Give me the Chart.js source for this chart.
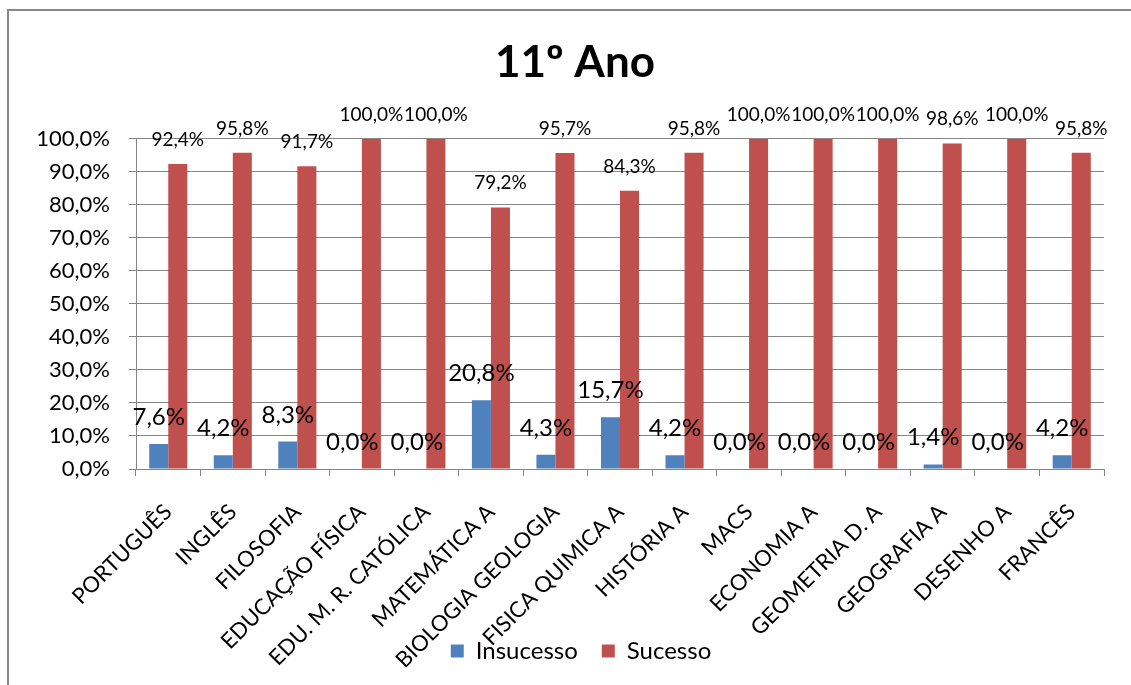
<!DOCTYPE html>
<html>
<head>
<meta charset="utf-8">
<script src="https://cdn.jsdelivr.net/npm/chart.js@4/dist/chart.umd.min.js"></script>
<style>
  html, body { margin: 0; padding: 0; background: #fff; overflow: hidden; }
  #wrap { position: relative; width: 1131px; height: 685px; overflow: hidden; }
  #frame { position: absolute; left: 7px; top: 9px; width: 1200px; height: 760px;
           border-top: 2px solid #888; border-left: 2px solid #888; pointer-events: none; }
  canvas { display: block; }
</style>
</head>
<body>
<div id="wrap">
  <canvas id="myChart" width="1131" height="685"></canvas>
  <div id="frame"></div>
</div>
<script>
//----------------------
// Data
//----------------------

const categories = ['PORTUGUÊS', 'INGLÊS', 'FILOSOFIA', 'EDUCAÇÃO FÍSICA', 'EDU. M. R. CATÓLICA',
    'MATEMÁTICA A', 'BIOLOGIA GEOLOGIA', 'FISICA QUIMICA A', 'HISTÓRIA A', 'MACS',
    'ECONOMIA A', 'GEOMETRIA D. A', 'GEOGRAFIA A', 'DESENHO A', 'FRANCÊS'];
const insucesso = [7.6, 4.2, 8.3, 0.0, 0.0, 20.8, 4.3, 15.7, 4.2, 0.0, 0.0, 0.0, 1.4, 0.0, 4.2];
const sucesso = [92.4, 95.8, 91.7, 100.0, 100.0, 79.2, 95.7, 84.3, 95.8, 100.0, 100.0, 100.0, 98.6, 100.0, 95.8];
const yTicks = [0, 10, 20, 30, 40, 50, 60, 70, 80, 90, 100];

const FONT = 'Lato';
const pct = v => v.toFixed(1).replace('.', ',') + '%';

//----------------------
// Value labels above bars
//----------------------

const barLabels = {
    id: 'barLabels',
    afterDatasetsDraw(chart) {
        const ctx = chart.ctx;
        chart.data.datasets.forEach((ds, i) => {
            const meta = chart.getDatasetMeta(i);
            ctx.save();
            ctx.fillStyle = '#000';
            ctx.textAlign = 'center';
            ctx.textBaseline = 'alphabetic';
            ctx.font = ds.labelSize + 'px ' + FONT;
            meta.data.forEach((bar, j) => {
                ctx.fillText(pct(ds.data[j]), bar.x, bar.y - ds.labelGap);
            });
            ctx.restore();
        });
    }
};

// legend sits over the rotated labels, title a bit right of centre (like the original)
const nudge = {
    id: 'nudge',
    afterLayout(chart) {
        chart.legend.top = 615;
        chart.legend.bottom = 685;
        chart.legend.height = 70;
        chart.legend.left += 19;
        chart.legend.right += 19;
        chart.titleBlock.left += 13;
        chart.titleBlock.right += 13;
    }
};

const ctx = document.getElementById('myChart').getContext('2d');
const chart = new Chart(ctx, {
    type: 'bar',
    data: {
        labels: categories,
        datasets: [{
            label: 'Insucesso',
            data: insucesso,
            backgroundColor: '#4F81BD',
            labelSize: 24,
            labelGap: 19,
            barPercentage: 1,
            categoryPercentage: 0.59
        }, {
            label: 'Sucesso',
            data: sucesso,
            backgroundColor: '#C0504D',
            labelSize: 19,
            labelGap: 18,
            barPercentage: 1,
            categoryPercentage: 0.59
        }]
    },
    options: {
        responsive: false,
        animation: false,
        layout: { padding: { left: 20, right: 27, top: 0, bottom: 0 } },
        plugins: {
            title: {
                display: true,
                text: '11º Ano',
                color: '#000',
                font: { family: FONT, size: 44, weight: 'bold' },
                padding: { top: 36, bottom: 50 }
            },
            legend: {
                position: 'bottom',
                maxHeight: 1,
                labels: {
                    color: '#000',
                    font: { family: FONT, size: 24 },
                    boxWidth: 13,
                    boxHeight: 13,
                    padding: 24
                }
            },
            tooltip: { enabled: false }
        },
        scales: {
            x: {
                grid: { drawOnChartArea: false, drawTicks: true, tickLength: 7, color: '#868686' },
                border: { color: '#868686' },
                ticks: {
                    color: '#000',
                    font: { family: FONT, size: 22 },
                    minRotation: 45,
                    maxRotation: 45,
                    autoSkip: false,
                    padding: 23
                },
                afterFit: (scale) => { scale.height = 215; }
            },
            y: {
                min: 0,
                max: 100,
                afterBuildTicks: (scale) => { scale.ticks = yTicks.map(v => ({ value: v })); },
                grid: { color: '#868686', tickLength: 7 },
                border: { color: '#868686' },
                ticks: {
                    color: '#000',
                    font: { family: FONT, size: 22 },
                    padding: 19,
                    callback: (v) => pct(v)
                },
                afterFit: (scale) => { scale.width = 116; }
            }
        }
    },
    plugins: [barLabels, nudge]
});
</script>
</body>
</html>
